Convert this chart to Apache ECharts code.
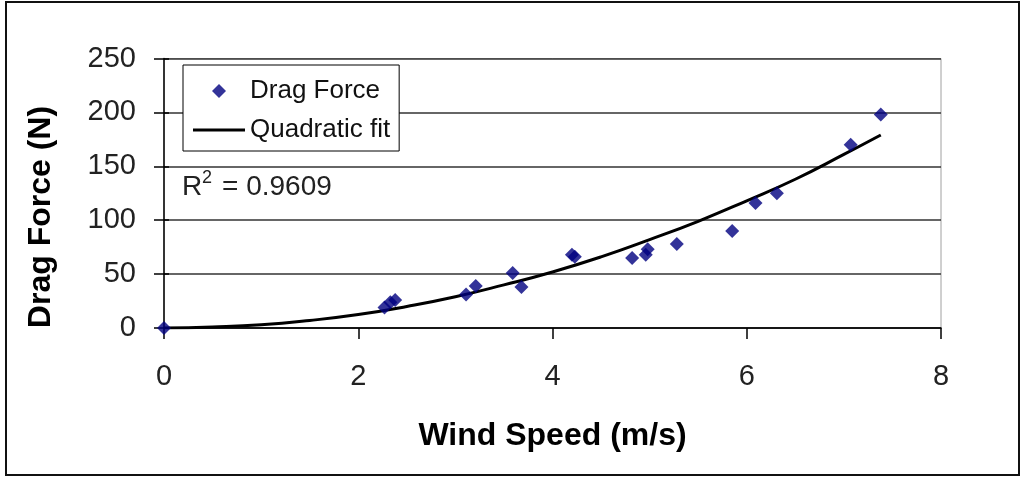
<!DOCTYPE html>
<html>
<head>
<meta charset="utf-8">
<script src="https://cdn.jsdelivr.net/npm/echarts@6/dist/echarts.min.js"></script>
<style>
  html, body { margin: 0; padding: 0; background: #fff; }
  #chart { width: 1025px; height: 479px; }
</style>
</head>
<body>
<div id="chart"></div>
<script>
// Measured drag force against wind speed
const windSpeed = [0, 2.27, 2.33, 2.38, 3.11, 3.21, 3.59, 3.68, 4.20, 4.23, 4.82, 4.96, 4.98, 5.28, 5.85, 6.09, 6.31, 7.07, 7.38];
const dragForce = [0, 19, 24, 26, 31, 39, 51, 38, 68, 66, 65, 68, 73, 78, 90, 116, 125, 170, 198];

// Quadratic trend line, sampled along wind speed
const fitSpeed = [0, 0.5, 1, 1.5, 2, 2.5, 3, 3.5, 4, 4.5, 5, 5.5, 6, 6.5, 7, 7.38];
const fitForce = [0, 1, 3, 7, 12.5, 20, 29, 40, 52, 66, 82, 99, 118, 138, 161, 179];

const xTicks = [0, 2, 4, 6, 8];
const yTicks = [0, 50, 100, 150, 200, 250];

const rSquared = '0.9609';

const FONT = '"Liberation Sans", Arial, sans-serif';

const scatterData = windSpeed.map((x, i) => [x, dragForce[i]]);
const fitData = fitSpeed.map((x, i) => [x, fitForce[i]]);

const chart = echarts.init(document.getElementById('chart'), null, { renderer: 'canvas' });

chart.setOption({
  animation: false,
  backgroundColor: '#fff',
  grid: {
    left: 164, right: 84, top: 58.5, bottom: 151,
    show: true, borderColor: '#a0a0a0', borderWidth: 1, backgroundColor: '#fff'
  },
  legend: {
    orient: 'vertical',
    left: 183, top: 65,
    padding: [13, 9, 8, 10],
    itemGap: 13,
    itemWidth: 52,
    itemHeight: 14,
    symbolKeepAspect: true,
    backgroundColor: '#fff',
    borderColor: '#000',
    borderWidth: 1,
    borderRadius: 0,
    textStyle: { fontFamily: FONT, fontSize: 26, color: '#111', lineHeight: 26 },
    data: [
      // path icons keep their aspect, so the diamond stays square
      { name: 'Drag Force', icon: 'path://M6,0L12,6L6,12L0,6Z' },
      { name: 'Quadratic fit', icon: 'path://M0,0H52V3H0Z' }
    ]
  },
  xAxis: {
    type: 'value',
    min: xTicks[0], max: xTicks[xTicks.length - 1], interval: 2,
    name: 'Wind Speed (m/s)',
    nameLocation: 'middle',
    nameGap: 92,
    nameTextStyle: { fontFamily: FONT, fontSize: 32, fontWeight: 'bold', color: '#000' },
    axisLine: { show: true, lineStyle: { color: '#000', width: 1.5 } },
    axisTick: { show: true, length: 11, lineStyle: { color: '#000', width: 1.5 } },
    axisLabel: { fontFamily: FONT, fontSize: 29, color: '#222', margin: 34 },
    splitLine: { show: false }
  },
  yAxis: [
    {
      type: 'value',
      min: yTicks[0], max: yTicks[yTicks.length - 1], interval: 50,
      axisLine: { show: true, lineStyle: { color: '#000', width: 1.5 } },
      axisTick: { show: true, length: 10, lineStyle: { color: '#000', width: 1.5 } },
      axisLabel: { fontFamily: FONT, fontSize: 29, color: '#222', margin: 28 },
      splitLine: { show: true, lineStyle: { color: '#333', width: 1.5 } }
    },
    {
      // inner half of the cross ticks on the value axis
      type: 'value',
      position: 'left',
      min: yTicks[0], max: yTicks[yTicks.length - 1], interval: 50,
      axisLine: { show: false },
      axisTick: { show: true, inside: true, length: 5, lineStyle: { color: '#000', width: 1.5 } },
      axisLabel: { show: false },
      splitLine: { show: false }
    }
  ],
  series: [
    {
      name: 'Quadratic fit',
      type: 'line',
      data: fitData,
      smooth: true,
      symbol: 'none',
      lineStyle: { color: '#000', width: 3 },
      itemStyle: { color: '#000' },
      z: 2
    },
    {
      name: 'Drag Force',
      type: 'scatter',
      data: scatterData,
      symbol: 'diamond',
      symbolSize: 14,
      itemStyle: { color: '#000080' },
      z: 3
    }
  ],
  graphic: [
    {
      type: 'rect',
      shape: { x: 6, y: 2, width: 1013, height: 473 },
      style: { fill: 'none', stroke: '#111', lineWidth: 2 },
      silent: true
    },
    {
      // value-axis title, set a little below the axis middle
      type: 'text', x: 41, y: 217, rotation: Math.PI / 2,
      style: {
        text: 'Drag Force (N)', font: 'bold 32px ' + FONT, fill: '#000',
        align: 'center', verticalAlign: 'middle'
      }
    },
    {
      type: 'text', left: 182, top: 173,
      style: { text: 'R', font: '28px ' + FONT, fill: '#222' }
    },
    {
      type: 'text', left: 202, top: 169,
      style: { text: '2', font: '18px ' + FONT, fill: '#222' }
    },
    {
      type: 'text', left: 222, top: 173,
      style: { text: '= ' + rSquared, font: '28px ' + FONT, fill: '#222' }
    }
  ]
});
</script>
</body>
</html>
